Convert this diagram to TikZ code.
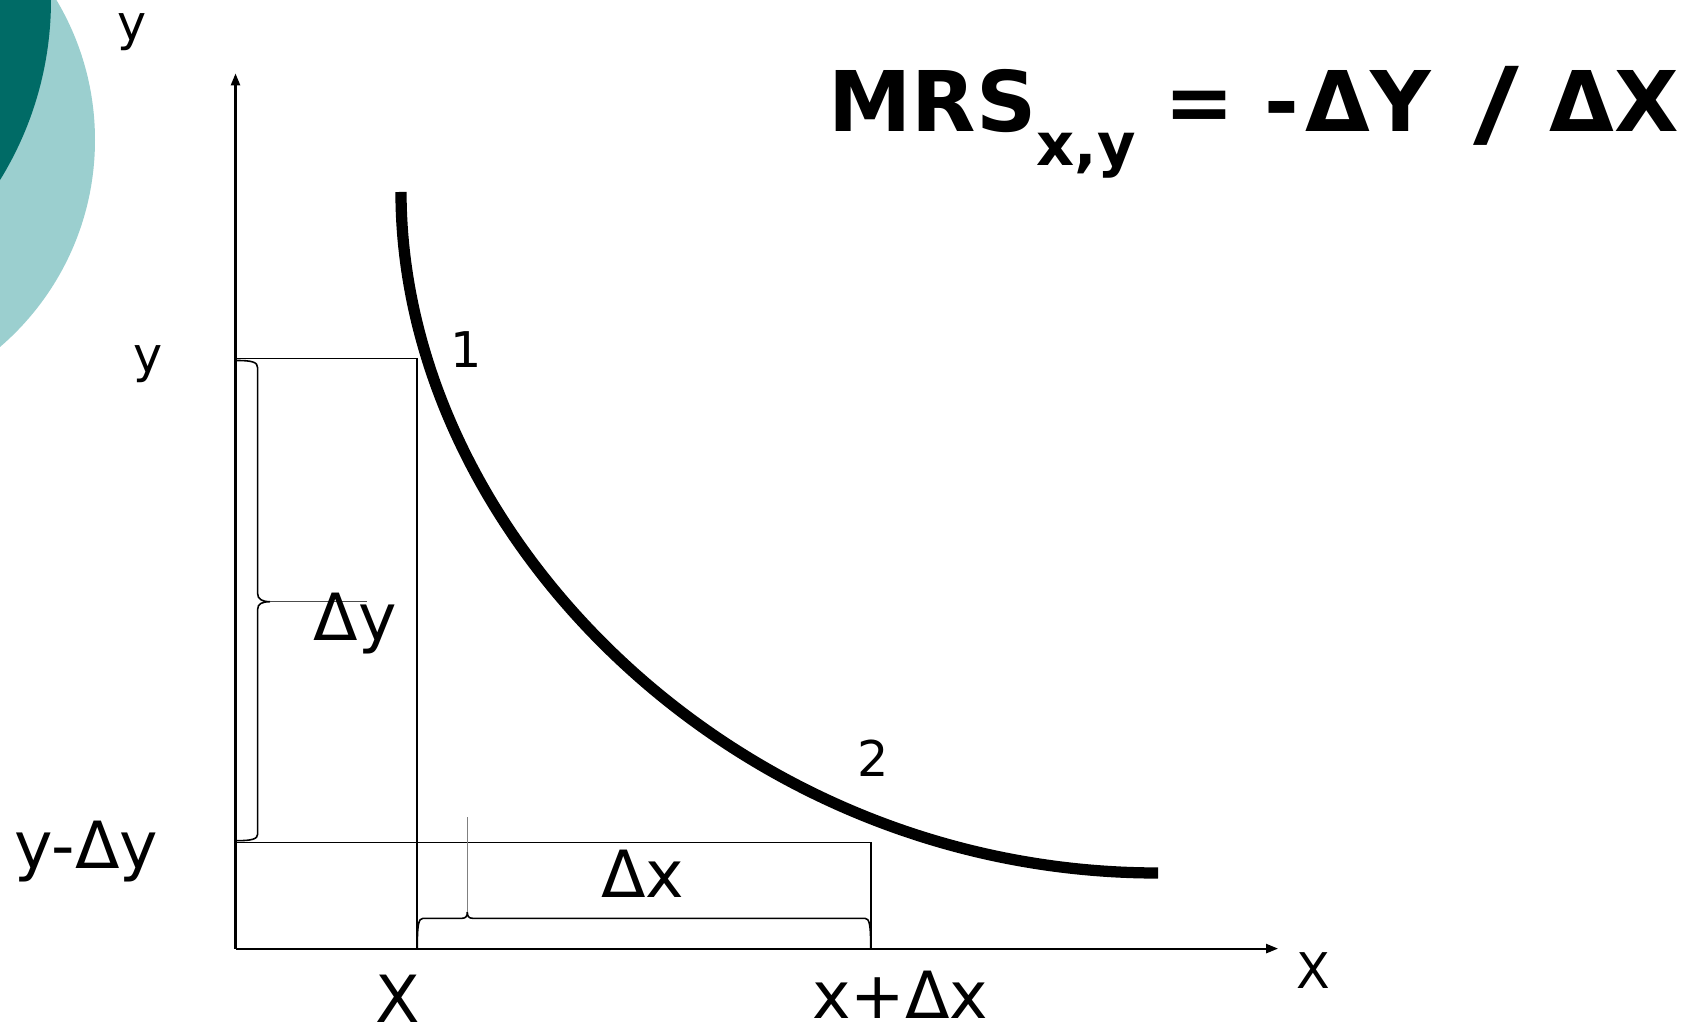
\documentclass[tikz,border=0pt]{standalone}
\usepackage{fontspec}
\usepackage{graphicx}
\setmainfont{DejaVu Sans}
\usetikzlibrary{arrows.meta}
\definecolor{tealdark}{HTML}{006B66}
\definecolor{teallight}{HTML}{9BCFCF}

\begin{document}
\begin{tikzpicture}[x=0.01cm,y=-0.01cm,
    big/.style={font=\fontsize{18.5}{20}\selectfont,inner sep=0pt,anchor=base},
    small/.style={font=\fontsize{14}{16}\selectfont,inner sep=0pt,anchor=base},
    axis/.style={line width=0.6pt,-{Triangle[length=3.4pt,width=2.6pt]}},
    guide/.style={line width=0.45pt},
    brace/.style={line width=0.45pt}]
    \useasboundingbox (0,0) rectangle (1694,1034);
    % corner decoration
    \begin{scope}
      \clip (0,0) rectangle (1694,1034);
      \fill[teallight] (-178,140) circle (273);
      \fill[tealdark] (-292,0) circle (343);
    \end{scope}
    % axes
    \coordinate (O) at (235.5,948.6);
    \coordinate (ytop) at (235.5,73.5);
    \coordinate (xend) at (1278,948.6);
    \draw[axis] (O) -- (ytop);
    \draw[axis] (O) -- (xend);
    % the two bundles
    \coordinate (p1) at (417,358.7);
    \coordinate (p2) at (870.8,842.7);
    \draw[guide] (O |- p1) -- (p1) -- (p1 |- O);
    \draw[guide] (O |- p2) -- (p2) -- (p2 |- O);
    % indifference curve
    \draw[line width=3.2pt] (401,192) .. controls (401,532) and (733,873) .. (1158,873);
    % brace for dy
    \draw[brace] (236.5,360.5) .. controls (252,360.5) and (257.7,362) .. (257.7,368)
      -- (257.7,594) .. controls (257.7,599) and (262,601.7) .. (270,601.7)
      .. controls (262,601.7) and (257.7,604) .. (257.7,609)
      -- (257.7,834) .. controls (257.7,839) and (252,840.7) .. (236.5,840.7);
    \draw[line width=0.4pt,black!70] (270,601.7) -- (367,601.7);
    % brace for dx
    \draw[brace] (417.3,948) .. controls (417.3,925) and (418.5,918.3) .. (423,918.3)
      -- (462,918.3) .. controls (466,918.3) and (467.3,916) .. (467.3,912)
      .. controls (467.3,916) and (468.6,918.3) .. (472.6,918.3)
      -- (865,918.3) .. controls (869.5,918.3) and (870.7,925) .. (870.7,948);
    \draw[line width=0.4pt,black!50] (467.3,912) -- (467.3,817);
    % labels
    \node[small] (ylab) at (132,41) {y};
    \node[small] (y1) at (148,373) {y};
    \node[big] (y2) at (86.5,868) {y-Δy};
    \node[big] (dy) at (355,641) {Δy};
    \node[small] (one) at (466,368) {1};
    \node[small] (two) at (873,777) {2};
    \node[big] (dx) at (642.5,897) {Δx};
    \node[big] (x1) at (397.5,1022) {X};
    \node[big] (x2) at (900,1018) {x+Δx};
    \node[small] (xlab) at (1313,988) {X};
    \node[anchor=base west,inner sep=0pt,font=\bfseries\fontsize{23.8}{26}\selectfont] (mrs)
      at (828,132) {MRS\raisebox{-9.4pt}{\fontsize{16.8}{18}\selectfont x,y} =
      -\kern2pt ΔY\kern1.6pt\ \kern2pt\raisebox{-1.2pt}{\scalebox{1.5}[1.15]{/}}\ \kern0.5pt ΔX};
\end{tikzpicture}
\end{document}
